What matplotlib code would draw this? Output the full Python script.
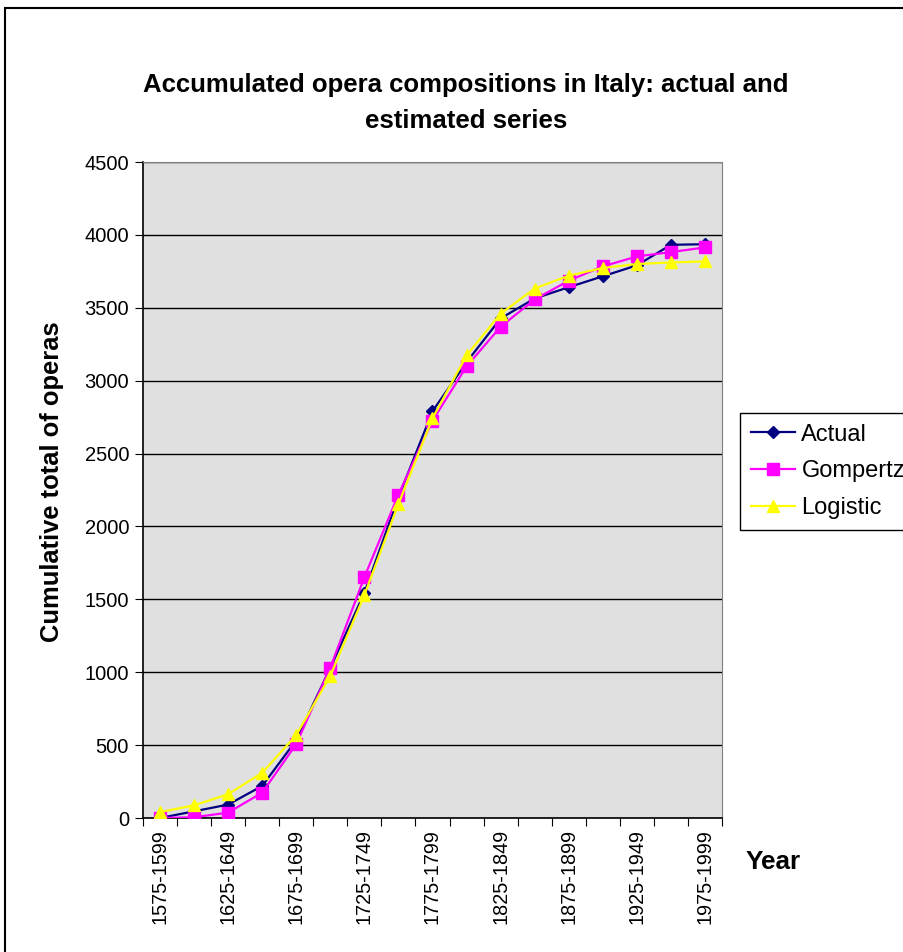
import numpy as np
import matplotlib
matplotlib.use('Agg')
import matplotlib.pyplot as plt
from matplotlib.patches import Rectangle

plt.rcParams['font.family'] = ['Liberation Sans', 'DejaVu Sans']

# 25-year periods
periods = ['1575-1599', '1600-1624', '1625-1649', '1650-1674', '1675-1699',
           '1700-1724', '1725-1749', '1750-1774', '1775-1799', '1800-1824',
           '1825-1849', '1850-1874', '1875-1899', '1900-1924', '1925-1949',
           '1950-1974', '1975-1999']

actual = [0, 46, 92, 220, 534, 1030, 1545, 2200, 2790, 3127, 3427,
          3564, 3641, 3716, 3791, 3932, 3936]
gompertz = [0, 5, 37, 174, 507, 1032, 1652, 2219, 2726, 3098, 3370,
            3557, 3686, 3784, 3852, 3882, 3914]
logistic = [41, 87, 163, 310, 569, 975, 1530, 2154, 2742, 3173, 3459,
            3632, 3720, 3773, 3800, 3811, 3818]

fig = plt.figure(figsize=(9.04, 9.52), dpi=100)
ax = fig.add_axes([143/904, 1 - 818/952, (722 - 143)/904, (818 - 162)/952])
ax.set_facecolor('#E0E0E0')

x = np.arange(len(periods))
ax.plot(x, actual, color='#000080', lw=1.6, marker='D', ms=6.5,
        label='Actual', zorder=3)
ax.plot(x, gompertz, color='#FF00FF', lw=1.6, marker='s', ms=8,
        label='Gompertz', zorder=4)
ax.plot(x, logistic, color='#FFFF00', lw=1.6, marker='^', ms=9,
        label='Logistic', zorder=5)

ax.set_xlim(-0.5, len(periods) - 0.5)
ax.set_ylim(0, 4500)
ax.set_yticks(range(0, 4501, 500))
ax.yaxis.grid(True, color='black', lw=1)
ax.set_axisbelow(True)

# tick marks between categories, labels on every other period
ax.set_xticks(np.arange(-0.5, len(periods), 1))
ax.set_xticklabels([])
ax.set_xticks(x[::2], minor=True)
ax.set_xticklabels(periods[::2], minor=True, rotation=90)
ax.tick_params(axis='x', which='minor', length=0, pad=8, labelsize=14.3)
ax.tick_params(axis='x', which='major', length=6, direction='out')
ax.tick_params(axis='y', length=6, direction='out', labelsize=14.5, pad=4)

for side in ['top', 'right']:
    ax.spines[side].set_color('#808080')
for side in ['left', 'bottom']:
    ax.spines[side].set_color('black')
    ax.spines[side].set_linewidth(1.2)

fig.text(466/904, 1 - 103/952,
         'Accumulated opera compositions in Italy: actual and\nestimated series',
         ha='center', va='center', fontsize=18.5, fontweight='bold',
         linespacing=1.6)
fig.text(52/904, 1 - 482/952, 'Cumulative total of operas', rotation=90,
         ha='center', va='center', fontsize=18.4, fontweight='bold')
fig.text(773/904, 1 - 862/952, 'Year', ha='center', va='center',
         fontsize=18.8, fontweight='bold')

leg = ax.legend(loc='upper left', bbox_to_anchor=(740/904, 1 - 413/952),
                bbox_transform=fig.transFigure, borderaxespad=0,
                fancybox=False, framealpha=1, edgecolor='black',
                fontsize=17, handlelength=1.9, labelspacing=0.63,
                borderpad=0.45, handletextpad=0.25)
leg.get_frame().set_linewidth(1)

# outer chart frame
fig.patches.append(Rectangle((5/904, -0.05), 1.0, 1 - 8/952 + 0.05,
                             transform=fig.transFigure, fill=False,
                             edgecolor='black', lw=1.5))

fig.savefig('out.png', dpi=100)
